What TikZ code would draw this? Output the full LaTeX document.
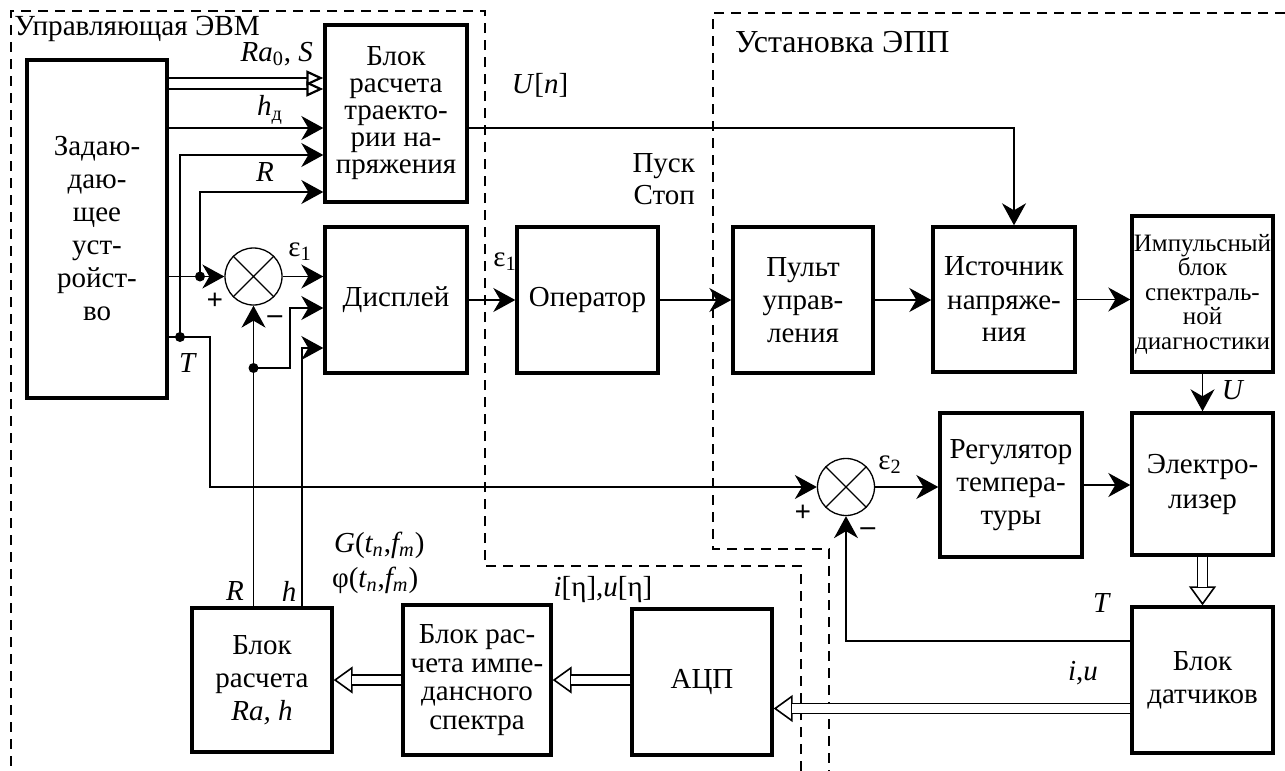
\documentclass[tikz,border=0pt]{standalone}
\usepackage{fontspec}
\setmainfont{Liberation Serif}
\usepackage{tikz}
\usetikzlibrary{arrows.meta, calc}

\begin{document}
\begin{tikzpicture}[x=0.5pt, y=-0.5pt,
    font=\fontsize{14.5}{16.5}\selectfont,
    block/.style={draw, line width=1.7pt, rectangle, align=center, inner sep=0pt},
    sum/.style={draw, line width=0.65pt, circle, minimum size=28.5pt, inner sep=0pt},
    line/.style={line width=0.65pt},
    arr/.style={line width=0.65pt, -{Stealth[length=11pt, width=12pt, inset=3.5pt]}},
    hollow/.style={line width=1.1pt, -{Triangle[length=8.5pt, width=7.5pt, fill=white]}},
    dbl/.style={line width=0.8pt, -{Triangle[open, length=9.5pt, width=13.5pt]},
        postaction={draw, arrows=-, double=white, double distance=4.2pt, line width=0.8pt, shorten >=9pt}},
    frame/.style={line width=0.65pt, dash pattern=on 5pt off 3.5pt}]
    \useasboundingbox (0,0) rectangle (1285,771);

    % dashed areas
    \draw[frame] (801,771) -- (801,566) -- (485,566) -- (485,11) -- (11,11) -- (11,771);
    \draw[frame] (1285,13) -- (713,13) -- (713,549) -- (829,549) -- (829,771);
    \node[anchor=base west, inner sep=1pt, font=\fontsize{14.6}{17}\selectfont] (evm) at (12,35) {Управляющая ЭВМ};
    \node[anchor=base west, font=\fontsize{16}{18}\selectfont] (epp) at (728,53) {Установка ЭПП};

    % blocks
    \node[block, minimum width=70pt, minimum height=169pt] (zu) at (97,229) {Задаю-\\даю-\\щее\\уст-\\ройст-\\во};
    \node[block, minimum width=71pt, minimum height=88.5pt, font=\fontsize{14.5}{13.5}\selectfont] (brt) at (396,113.5) {Блок\\расчета\\траекто-\\рии на-\\пряжения};
    \node[block, minimum width=71pt, minimum height=73pt] (disp) at (396,300) {Дисплей};
    \node[block, minimum width=70.5pt, minimum height=73pt] (oper) at (587.5,300) {Оператор};
    \node[block, minimum width=70pt, minimum height=73pt] (pult) at (803,300) {Пульт\\управ-\\ления};
    \node[block, minimum width=71pt, minimum height=72.5pt] (src) at (1004,299.5) {Источник\\напряже-\\ния};
    \node[block, minimum width=70.5pt, minimum height=78pt, font=\fontsize{12.5}{12.25}\selectfont] (ibsd) at (1202.5,294) {Импульсный\\блок\\спектраль-\\ной\\диагностики};
    \node[block, minimum width=71pt, minimum height=72pt] (reg) at (1011,485) {Регулятор\\темпера-\\туры};
    \node[block, minimum width=70.5pt, minimum height=71pt, font=\fontsize{14.5}{17.5}\selectfont] (elz) at (1202.5,484) {Электро-\\лизер};
    \node[block, minimum width=70.5pt, minimum height=73pt] (bd) at (1202.5,680) {Блок\\датчиков};
    \node[block, minimum width=70pt, minimum height=73pt] (adc) at (702,682) {АЦП};
    \node[block, minimum width=74pt, minimum height=75pt, font=\fontsize{14.5}{14.25}\selectfont] (bis) at (477,680) {Блок рас-\\чета импе-\\дансного\\спектра};
    \node[block, minimum width=70pt, minimum height=72pt] (bra) at (262,680) {Блок\\расчета\\\textit{Ra, h}};
    \node[sum] (s1) at (253.5,276.5) {};
    \node[sum] (s2) at (846,487) {};
    \draw[line] (s1.north west) -- (s1.south east) (s1.north east) -- (s1.south west);
    \draw[line] (s2.north west) -- (s2.south east) (s2.north east) -- (s2.south west);

    % ports
    \coordinate (yra) at (0,78);
    \coordinate (ys) at (0,89);
    \coordinate (yhd) at (0,128);
    \coordinate (yt) at (0,155);
    \coordinate (yr) at (0,192);
    \coordinate (yun) at (0,128);
    \coordinate (yrd) at (0,308);
    \coordinate (yhdisp) at (0,348);
    \coordinate (ytf) at (0,641);
    \coordinate (yiu) at (0,708.5);
    \coordinate (hx) at (302,0);
    \coordinate (ux) at (1014,0);
    \coordinate (tdot) at (180,337);
    \coordinate (sdot) at (200,276.5);
    \coordinate (rdot) at (253.5,368);

    % connections
    \draw[hollow] (zu.east |- yra) -- (brt.west |- yra);
    \draw[hollow] (zu.east |- ys) -- (brt.west |- ys);
    \draw[arr] (zu.east |- yhd) -- (brt.west |- yhd);
    \draw[arr] (tdot) |- (brt.west |- yt);
    \draw[arr] (sdot) |- (brt.west |- yr);
    \draw[arr] (zu.east |- s1) -- (s1.west);
    \draw[arr] (zu.east |- tdot) -| (210,487) -- (s2.west);
    \draw[arr] (s1.east) -- (s1.east -| disp.west);
    \draw[arr] (bra.north -| s1) -- (s1.south);
    \draw[arr] (rdot) -| (290,308) -- (disp.west |- yrd);
    \draw[arr] (bra.north -| hx) |- (disp.west |- yhdisp);
    \draw[arr] (disp.east) -- (oper.west);
    \draw[arr] (oper.east) -- (pult.west);
    \draw[arr] (pult.east) -- (pult.east -| src.west);
    \draw[arr] (src.east) -- (src.east -| ibsd.west);
    \draw[arr] (brt.east |- yun) -| (ux |- src.north);
    \draw[arr] (ibsd.south) -- (elz.north);
    \draw[arr] (s2.east) -- (s2.east -| reg.west);
    \draw[arr] (reg.east) -- (reg.east -| elz.west);
    \draw[dbl] (elz.south) -- (bd.north);
    \draw[arr] (bd.west |- ytf) -| (s2.south);
    \draw[dbl] (bd.west |- yiu) -- (adc.east |- yiu);
    \draw[dbl] (adc.west |- bis) -- (bis.east);
    \draw[dbl] (bis.west) -- (bis.west -| bra.east);
    \fill (tdot) circle (2.5pt);
    \fill (sdot) circle (2.5pt);
    \fill (rdot) circle (2.5pt);

    % labels
    \node[anchor=east] (lras) at (320,54) {\textit{Ra}\textsubscript{0}, \textit{S}};
    \node (lhd) at (270,110) {\textit{h}\textsubscript{д}};
    \node (lr1) at (265,172) {\textit{R}};
    \node (lun) at (540,85) {\textit{U}[\textit{n}]};
    \node[align=right, anchor=east, font=\fontsize{14.5}{16}\selectfont] (lps) at (702,179) {Пуск\\Стоп};
    \node (le1) at (300,252) {ε\textsubscript{1}};
    \node (le1b) at (505,262) {ε\textsubscript{1}};
    \node (lp1) at (215,301) {\textbf{+}};
    \node (lm1) at (275,320) {\textbf{–}};
    \node (lt1) at (188,363) {\textit{T}};
    \node (lr2) at (235,591) {\textit{R}};
    \node (lh2) at (289,591) {\textit{h}};
    \node[anchor=west] (lg) at (327,545) {\textit{G}(\textit{t\textsubscript{n}},\textit{f\textsubscript{m}})};
    \node[anchor=west] (lphi) at (325,580) {φ(\textit{t\textsubscript{n}},\textit{f\textsubscript{m}})};
    \node (liu1) at (603,590) {\textit{i}[η],\textit{u}[η]};
    \node (le2) at (890,465) {ε\textsubscript{2}};
    \node (lp2) at (803,513) {\textbf{+}};
    \node (lm2) at (868,532) {\textbf{–}};
    \node (lu) at (1233,390) {\textit{U}};
    \node (lt2) at (1102,603) {\textit{T}};
    \node (liu2) at (1083,673) {\textit{i},\textit{u}};
\end{tikzpicture}
\end{document}
